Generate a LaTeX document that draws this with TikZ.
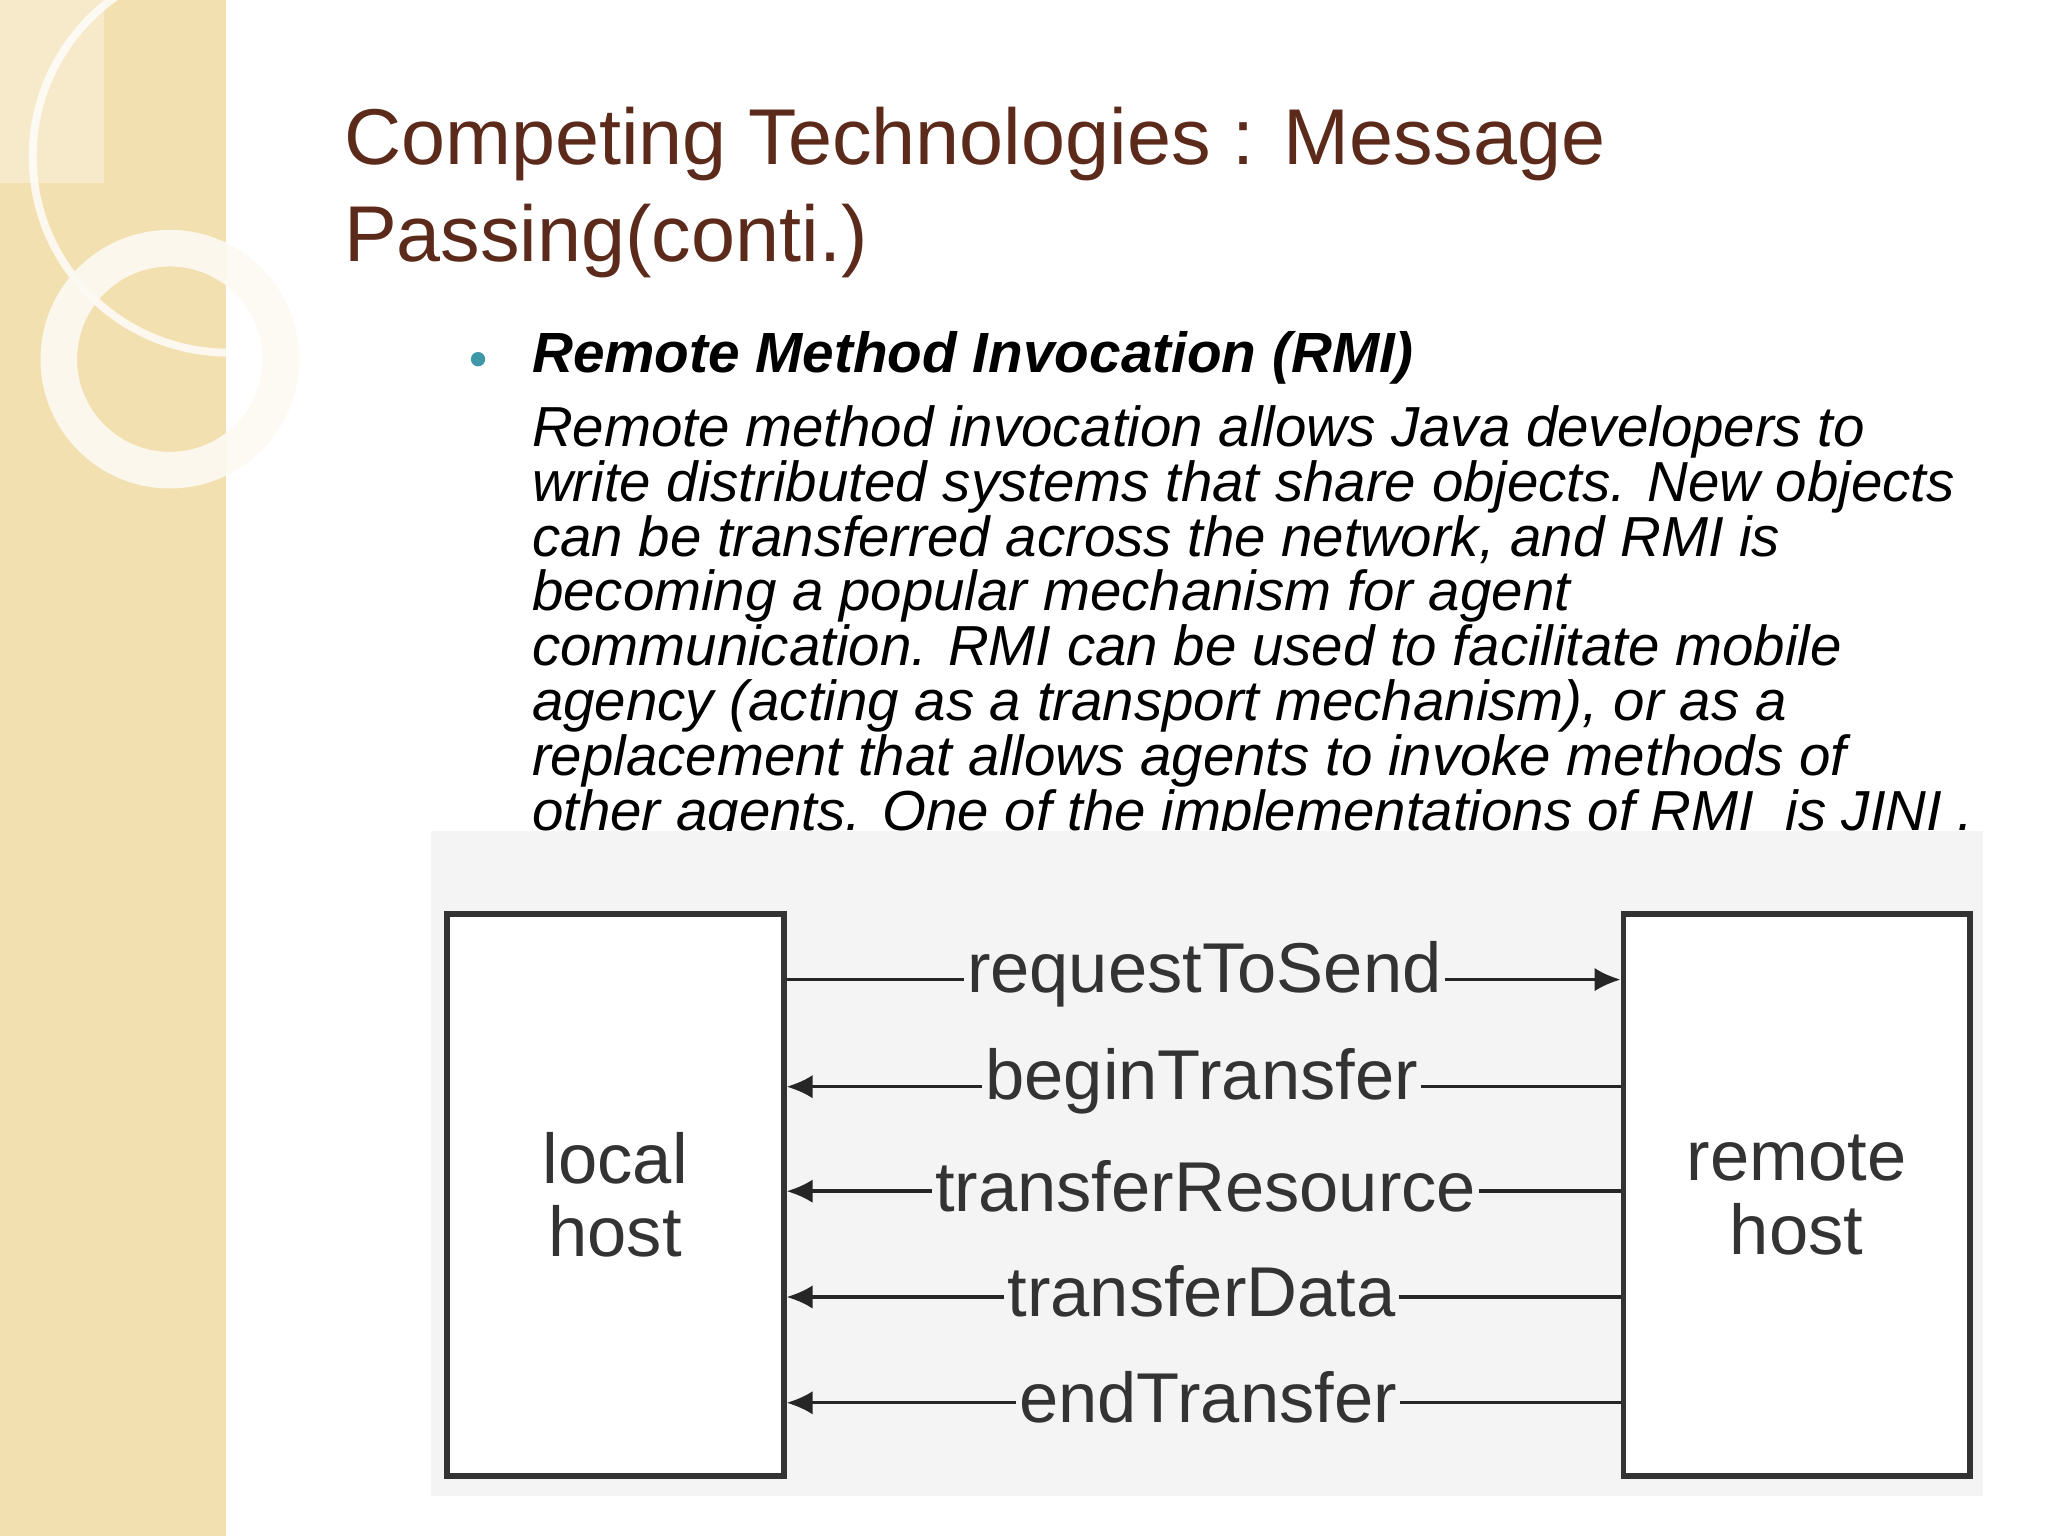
\documentclass[tikz,border=0pt]{standalone}
\usepackage{fontspec}
\setmainfont{Liberation Sans}
\usetikzlibrary{arrows.meta}
\definecolor{strip}{HTML}{F2E0B0}
\definecolor{titlec}{HTML}{5B2A1A}
\definecolor{bulc}{HTML}{3E98A8}
\definecolor{diag}{HTML}{F4F4F4}
\definecolor{lab}{HTML}{333333}
\tikzset{hostbox/.style={draw=black!80,line width=2.2pt,fill=white},
 msg/.style={font=\fontsize{27}{27}\selectfont,text=lab,inner sep=1pt},
 conn/.style={line width=1.3pt,draw=black!85},
 tip/.style={-{Latex[length=10pt,width=9pt]}}}
\begin{document}
\begin{tikzpicture}[x=0.5pt,y=-0.5pt]
\useasboundingbox (0,0) rectangle (1568,1176);
\fill[white] (0,0) rectangle (1568,1176);
\fill[strip] (0,0) rectangle (173,1176);
\draw[white,line width=3pt,opacity=0.8] (175,120) circle (150);
\draw[white!85!strip,line width=14pt,opacity=0.9] (130,275) circle (85);
\fill[white,opacity=0.35] (0,0) rectangle (80,140);
\node[anchor=north west,align=left,text=titlec,font=\fontsize{30.3}{37}\selectfont,inner sep=0] (title) at (263,82) {Competing Technologies : Message\\Passing(conti.)};
\fill[bulc] (366,275) circle (5.5);
\node[anchor=west,font=\fontsize{21.7}{21}\selectfont\bfseries\itshape,inner sep=0] (head) at (407,274) {Remote Method Invocation (RMI)};
\node[anchor=north west,align=left,font=\fontsize{21.6}{21}\selectfont\itshape,inner sep=0] (body) at (407,310) {Remote method invocation allows Java developers to\\write distributed systems that share objects. New objects\\can be transferred across the network, and RMI is\\becoming a popular mechanism for agent\\communication. RMI can be used to facilitate mobile\\agency (acting as a transport mechanism), or as a\\replacement that allows agents to invoke methods of\\other agents. One of the implementations of RMI\ \ is JINI .};
\fill[diag] (330,636) rectangle (1518,1145);
\node[hostbox,minimum width=129pt,minimum height=215pt,align=center,font=\fontsize{27}{28}\selectfont,text=lab] (local) at (471,915) {local\\host};
\node[hostbox,minimum width=132.5pt,minimum height=215pt,align=center,font=\fontsize{27}{28}\selectfont,text=lab] (remote) at (1375.5,915) {remote\\host};
\foreach \n/\t/\y/\x in {a/requestToSend/750/922,b/beginTransfer/832/920,c/transferResource/912/923,d/transferData/993/920,e/endTransfer/1074/925}{
 \coordinate (L\n) at (local.east |- 0,\y);
 \coordinate (R\n) at (remote.west |- 0,\y);
 \node[msg] (m\n) at (\x,\y-4) {\t};
}
\draw[conn] (La) -- (ma.west |- La); \draw[conn,tip] (ma.east |- Ra) -- (Ra);
\foreach \n in {b,c,d,e}{
 \draw[conn,tip] (m\n.west |- L\n) -- (L\n);
 \draw[conn] (m\n.east |- R\n) -- (R\n);
}
\end{tikzpicture}
\end{document}
